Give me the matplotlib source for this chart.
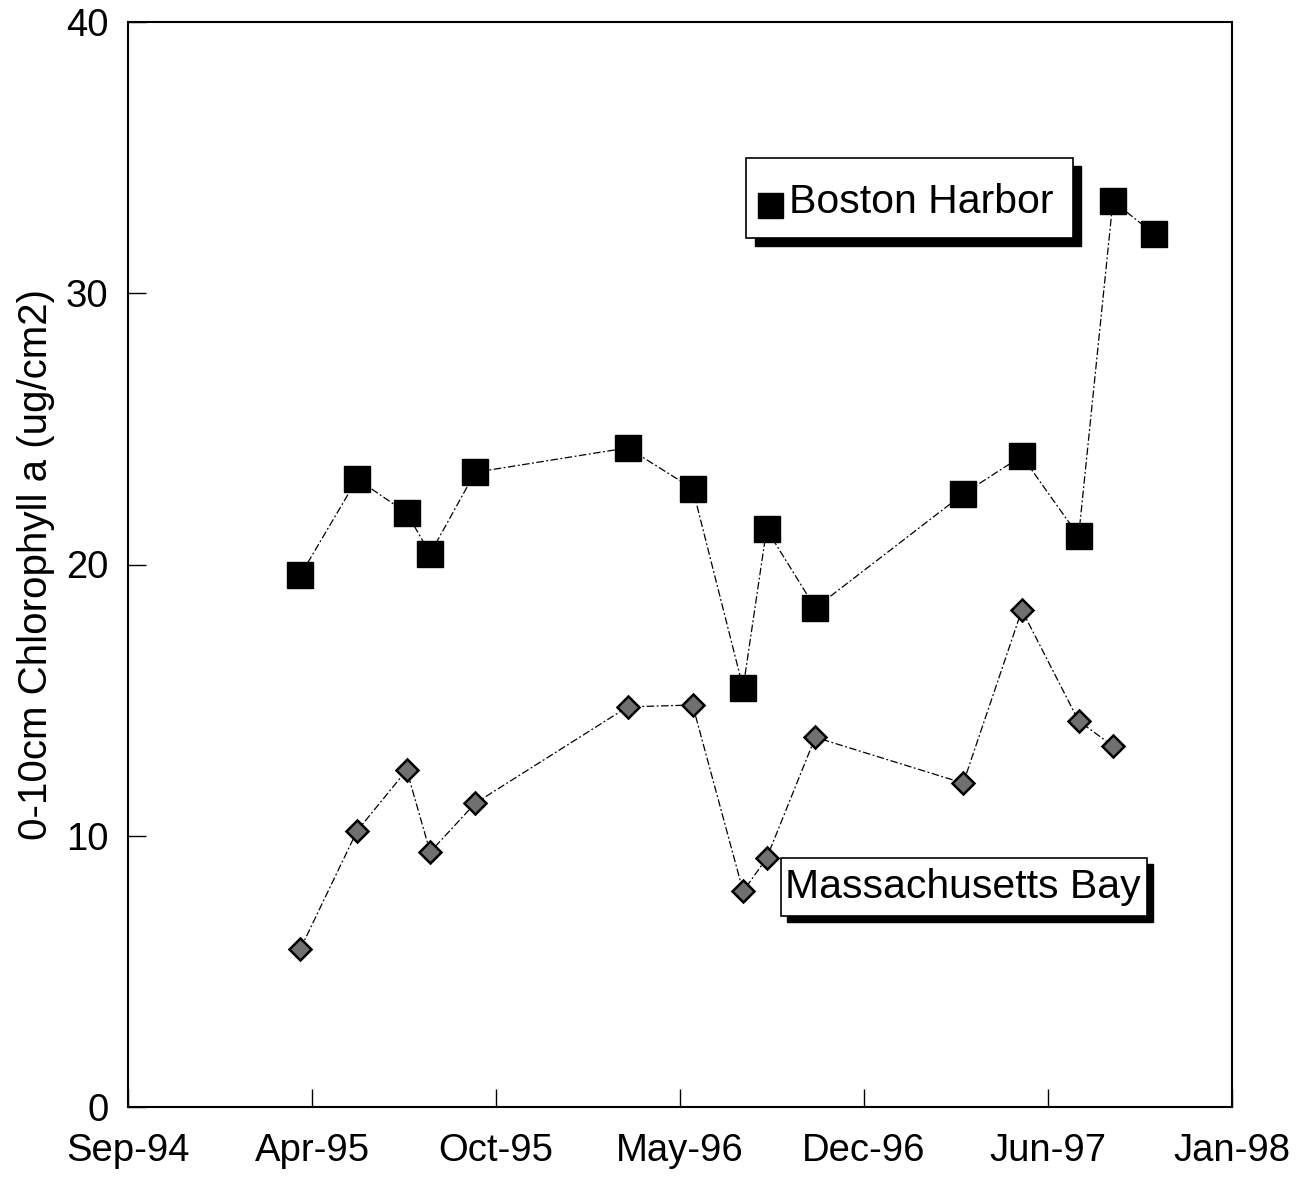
import matplotlib
matplotlib.use("Agg")
import matplotlib.pyplot as plt
import matplotlib.dates as mdates
from matplotlib.patches import Rectangle
import numpy as np
import pandas as pd

plt.rcParams['font.family'] = ['Liberation Sans', 'DejaVu Sans']

# --- data ---
harbor_dates = pd.to_datetime([
    '1995-03-20', '1995-05-22', '1995-07-16', '1995-08-11', '1995-09-30',
    '1996-03-17', '1996-05-28', '1996-07-23', '1996-08-18', '1996-10-11',
    '1997-03-24', '1997-05-28', '1997-07-30', '1997-09-06', '1997-10-21'])
harbor_chl = [19.6, 23.15, 21.9, 20.4, 23.4,
              24.3, 22.8, 15.45, 21.3, 18.4,
              22.6, 24.0, 21.05, 33.4, 32.2]

bay_dates = pd.to_datetime([
    '1995-03-20', '1995-05-22', '1995-07-16', '1995-08-11', '1995-09-30',
    '1996-03-17', '1996-05-28', '1996-07-23', '1996-08-18', '1996-10-11',
    '1997-03-24', '1997-05-28', '1997-07-30', '1997-09-06'])
bay_chl = [5.82, 10.18, 12.42, 9.4, 11.2,
           14.75, 14.82, 7.95, 9.17, 13.63,
           11.94, 18.32, 14.23, 13.31]

# axis ticks: Excel-style date axis, equal day steps
tick_start = pd.Timestamp('1994-09-10')
tick_step_days = 204
n_ticks = 7
tick_dates = [tick_start + pd.Timedelta(days=tick_step_days * i) for i in range(n_ticks)]
y_ticks = [0, 10, 20, 30, 40]

# --- figure ---
fig = plt.figure(figsize=(13.06, 11.84), dpi=100)
fig.patch.set_facecolor('white')
ax = fig.add_axes([128 / 1306, 1 - 1107 / 1184, 1104 / 1306, 1085 / 1184])

line_style = (0, (6, 2, 1.5, 2))

ax.plot(harbor_dates, harbor_chl, color='black', lw=0.9, linestyle=line_style,
        marker='s', markersize=19, markerfacecolor='black',
        markeredgecolor='black', zorder=3)
ax.plot(bay_dates, bay_chl, color='black', lw=0.9, linestyle=line_style,
        marker='D', markersize=11.5, markerfacecolor='#707070',
        markeredgecolor='black', markeredgewidth=1.8, zorder=3)

ax.set_xlim(tick_dates[0], tick_dates[-1])
ax.set_ylim(0, 40)
ax.set_xticks(tick_dates)
ax.xaxis.set_major_formatter(mdates.DateFormatter('%b-%y'))
ax.set_yticks(y_ticks)

ax.tick_params(axis='both', direction='in', length=13, width=1.0,
               labelsize=27.5, colors='black')
ax.tick_params(axis='x', pad=19)
ax.tick_params(axis='y', pad=14)

for sp in ax.spines.values():
    sp.set_linewidth(1.5)
    sp.set_color('black')

ax.set_ylabel('0-10cm Chlorophyll a (ug/cm2)', fontsize=29, labelpad=8)

# --- label boxes with drop shadow ---
def shadow_box(x0, y0, x1, y1, dx, dy):
    ax.add_patch(Rectangle((x0 + dx, y0 - dy), x1 - x0, y1 - y0,
                           transform=ax.transAxes, facecolor='black',
                           edgecolor='black', clip_on=False, zorder=5))
    ax.add_patch(Rectangle((x0, y0), x1 - x0, y1 - y0,
                           transform=ax.transAxes, facecolor='white',
                           edgecolor='black', lw=1.2, clip_on=False, zorder=6))

shadow_box(0.560, 0.801, 0.856, 0.875, 0.0075, 0.0075)
ax.plot([0.5815], [0.831], transform=ax.transAxes, marker='s', markersize=18,
        color='black', linestyle='none', zorder=7, clip_on=False)
ax.text(0.5985, 0.834, 'Boston Harbor', transform=ax.transAxes,
        fontsize=29.5, ha='left', va='center', zorder=7)

shadow_box(0.5915, 0.176, 0.923, 0.2295, 0.0055, 0.0055)
ax.text(0.595, 0.203, 'Massachusetts Bay', transform=ax.transAxes,
        fontsize=29.5, ha='left', va='center', zorder=7)

fig.savefig('out.png', dpi=100, facecolor='white')
